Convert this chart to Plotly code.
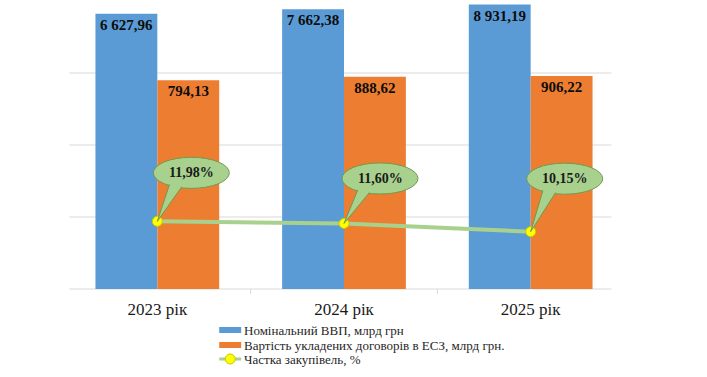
import plotly.graph_objects as go

years = ["2023 рік", "2024 рік", "2025 рік"]
gdp = [6627.96, 7662.38, 8931.19]
contracts = [794.13, 888.62, 906.22]
share = [11.98, 11.60, 10.15]

names = ["Номінальний ВВП, млрд грн",
         "Вартість укладених договорів в ЕСЗ, млрд грн.",
         "Частка закупівель, %"]

BLUE = "#5b9bd5"
ORANGE = "#ed7d31"
GREEN = "#a9d18e"
DGREEN = "#6f9a4c"
SERIF = "Liberation Serif, Times New Roman, serif"

W, H = 707, 377
L, R, T, B = 63.5, 82.5, 1, 88
PW, PH = W - L - R, H - T - B


def fmt(v):
    return f"{v:,.2f}".replace(",", " ").replace(".", ",")


def px(x):
    return (x - L) / PW


def py(y):
    return (H - B - y) / PH


fig = go.Figure()
fig.add_trace(go.Bar(
    x=years, y=gdp, name=names[0], marker=dict(color=BLUE, line=dict(width=0)),
    text=[fmt(v) for v in gdp], textposition="inside", insidetextanchor="end",
    textangle=0, constraintext="none",
    insidetextfont=dict(family=SERIF, size=15, color="#0d0d0d", weight="bold"),
    yaxis="y", showlegend=False))
fig.add_trace(go.Bar(
    x=years, y=contracts, name=names[1], marker=dict(color=ORANGE, line=dict(width=0)),
    text=[fmt(v) for v in contracts], textposition="inside", insidetextanchor="end",
    textangle=0, constraintext="none",
    insidetextfont=dict(family=SERIF, size=15, color="#0d0d0d", weight="bold"),
    yaxis="y", showlegend=False))
fig.add_trace(go.Scatter(
    x=years, y=share, name=names[2], mode="lines+markers", yaxis="y2",
    line=dict(color=GREEN, width=4),
    marker=dict(color="#ffff00", size=10, line=dict(color="#c8c800", width=1)),
    showlegend=False))

shapes = []
# gridlines
for f in [0, 0.25, 0.5, 0.75]:
    shapes.append(dict(type="line", xref="paper", yref="paper", x0=px(69), x1=px(612),
                       y0=f, y1=f, line=dict(color="#d9d9d9", width=1), layer="below"))
# category boundary ticks
for b in [0.5, 1.5]:
    shapes.append(dict(type="line", xref="x", yref="paper", x0=b, x1=b,
                       y0=0, y1=-5 / PH, line=dict(color="#d9d9d9", width=1)))

# callouts
callout_dx = [34, 36, 34]
callout_dy = [48.5, 45, 53]
annotations = []
for i, (yr, v) in enumerate(zip(years, share)):
    dx, dy = callout_dx[i], callout_dy[i]
    common = dict(xref="x", yref="y2", xsizemode="pixel", ysizemode="pixel",
                  xanchor=i, yanchor=v)
    shapes.append(dict(type="circle", x0=dx - 38, x1=dx + 38, y0=dy - 15.5, y1=dy + 15.5,
                       fillcolor=GREEN, line=dict(color=DGREEN, width=1), **common))
    shapes.append(dict(type="path",
                       path=f"M0,0 L{dx-20},{dy-6} L{dx-4},{dy-6} Z",
                       fillcolor=GREEN, line=dict(color=DGREEN, width=1), **common))
    shapes.append(dict(type="circle", x0=dx - 37, x1=dx + 37, y0=dy - 14.5, y1=dy + 14.5,
                       fillcolor=GREEN, line=dict(width=0), **common))
    annotations.append(dict(x=yr, y=v, xref="x", yref="y2", xshift=dx, yshift=dy,
                            text=f"{v:.2f}%".replace(".", ","), showarrow=False,
                            font=dict(family=SERIF, size=14, color="#1a1a1a", weight="bold")))

# manual legend
rows = [330, 345, 359]
for col, yy in zip([BLUE, ORANGE], rows[:2]):
    shapes.append(dict(type="rect", xref="paper", yref="paper", x0=px(219), x1=px(241),
                       y0=py(yy + 3), y1=py(yy - 3), fillcolor=col, line=dict(width=0)))
shapes.append(dict(type="line", xref="paper", yref="paper", x0=px(219), x1=px(241),
                   y0=py(rows[2]), y1=py(rows[2]), line=dict(color=GREEN, width=3)))
shapes.append(dict(type="circle", xref="paper", yref="paper", x0=px(225), x1=px(235),
                   y0=py(rows[2] + 5), y1=py(rows[2] - 5), fillcolor="#ffff00",
                   line=dict(color="#c8c800", width=1)))
for nm, yy in zip(names, rows):
    annotations.append(dict(x=px(242), y=py(yy), xref="paper", yref="paper",
                            xanchor="left", yanchor="middle", text=nm, showarrow=False,
                            font=dict(family=SERIF, size=13, color="#262626")))

fig.update_layout(
    width=W, height=H, margin=dict(l=L, r=R, t=T, b=B, autoexpand=False),
    paper_bgcolor="white", plot_bgcolor="white",
    barmode="group", bargap=0.337, bargroupgap=0,
    xaxis=dict(type="category", showgrid=False, showline=False, ticks="", zeroline=False,
               tickfont=dict(family=SERIF, size=17, color="#1a1a1a"), ticklabelstandoff=8),
    yaxis=dict(type="log", range=[0, 4], showgrid=False, showticklabels=False,
               zeroline=False, showline=False, ticks=""),
    yaxis2=dict(range=[0, 51], overlaying="y", showgrid=False, showticklabels=False,
                zeroline=False, showline=False, ticks=""),
    shapes=shapes, annotations=annotations, showlegend=False,
)

fig.write_html("out.html", config={"displayModeBar": False},
               post_script="document.body.style.margin='0';")
